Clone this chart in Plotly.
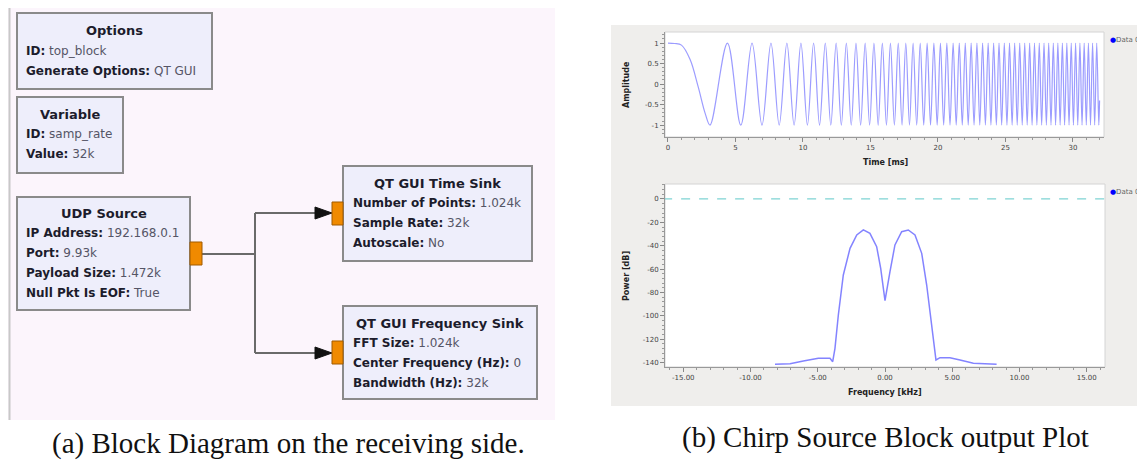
import plotly.graph_objects as go

# The page body has an 8px margin, so the figure is drawn 8px lower/right.
OFF = 8
W, H = 1145 - OFF, 466 - OFF

# ---------------- data ----------------
# chirp (time sink): readings of the first slope, then times of successive peaks/troughs (ms)
chirp_t = [0.0, 0.5, 1.0, 1.64, 2.24, 2.76, 3.114, 4.405, 5.394, 6.229, 6.964, 7.629, 8.240, 8.809, 9.343,
           9.849, 10.330, 10.789, 11.229, 11.653, 12.062, 12.458, 12.841, 13.213, 13.576,
           13.928, 14.272, 14.608, 14.937, 15.258, 15.572, 15.881, 16.183, 16.480, 16.772,
           17.059, 17.341, 17.618, 17.891, 18.160, 18.425, 18.687, 18.945, 19.199, 19.450,
           19.698, 19.942, 20.184, 20.423, 20.659, 20.893, 21.124, 21.352, 21.578, 21.801,
           22.023, 22.242, 22.459, 22.674, 22.887, 23.098, 23.307, 23.514, 23.719, 23.923,
           24.125, 24.325, 24.523, 24.720, 24.916, 25.110, 25.302, 25.493, 25.683, 25.871,
           26.058, 26.243, 26.427, 26.610, 26.792, 26.972, 27.151, 27.329, 27.506, 27.682,
           27.857, 28.030, 28.203, 28.374, 28.545, 28.714, 28.882, 29.050, 29.216, 29.382,
           29.547, 29.710, 29.873, 30.035, 30.196, 30.356, 30.516, 30.674, 30.832, 30.989,
           31.145, 31.300, 31.455, 31.609, 31.762, 31.914, 31.97]
chirp_amp = [1, 0.99, 0.95, 0.6, -0.07, -0.72, -1, 1, -1, 1, -1, 1, -1, 1, -1,
             1, -1, 1, -1, 1, -1, 1, -1, 1, -1,
             1, -1, 1, -1, 1, -1, 1, -1, 1, -1,
             1, -1, 1, -1, 1, -1, 1, -1, 1, -1,
             1, -1, 1, -1, 1, -1, 1, -1, 1, -1,
             1, -1, 1, -1, 1, -1, 1, -1, 1, -1,
             1, -1, 1, -1, 1, -1, 1, -1, 1, -1,
             1, -1, 1, -1, 1, -1, 1, -1, 1, -1,
             1, -1, 1, -1, 1, -1, 1, -1, 1, -1,
             1, -1, 1, -1, 1, -1, 1, -1, 1, -1,
             1, -1, 1, -1, 1, -1, -0.4]

# spectrum (frequency sink)
freq_khz = [-8.18, -7.06, -6.07, -4.96, -4.09, -3.89, -3.72, -3.47, -3.10, -2.60,
            -2.10, -1.61, -1.12, -0.62, -0.32, 0.0, 0.37, 0.74, 1.24, 1.73,
            2.23, 2.73, 3.10, 3.47, 3.79, 4.09, 4.83, 5.58, 6.57, 8.30]
power_db = [-141.4, -140.9, -138.6, -136.3, -136.3, -139.2, -127.7, -99.2, -65.0, -42.2,
            -30.8, -26.5, -29.4, -40.8, -59.3, -87.0, -62.2, -39.3, -28.0, -26.5,
            -30.8, -46.5, -73.6, -107.8, -137.7, -135.7, -135.7, -137.7, -140.5, -141.4]
ref_level_x = [-16.5, 16.5]
ref_level_db = [0, 0]

time_ticks = [0, 5, 10, 15, 20, 25, 30]
amp_ticks = [1, 0.5, 0, -0.5, -1]
amp_labels = ["1", "0.5", "0", "-0.5", "-1"]
freq_ticks = [-15, -10, -5, 0, 5, 10, 15]
freq_labels = ["-15.00", "-10.00", "-5.00", "0.00", "5.00", "10.00", "15.00"]
db_ticks = [0, -20, -40, -60, -80, -100, -120, -140]
db_labels = ["0", "-20", "-40", "-60", "-80", "-100", "-120", "-140"]

# block diagram content
blocks = [
    dict(title="Options", rect=(17, 13, 212, 89), ty=31,
         rows=[("ID:", "top_block"), ("Generate Options:", "QT GUI")], ry=[51, 71], tx=24),
    dict(title="Variable", rect=(17, 97, 123, 173), ty=114,
         rows=[("ID:", "samp_rate"), ("Value:", "32k")], ry=[134, 154], tx=24),
    dict(title="UDP Source", rect=(17, 197, 190, 310), ty=213,
         rows=[("IP Address:", "192.168.0.1"), ("Port:", "9.93k"), ("Payload Size:", "1.472k"),
               ("Null Pkt Is EOF:", "True")], ry=[233, 253, 273, 293], tx=24),
    dict(title="QT GUI Time Sink", rect=(343, 166, 532, 261), ty=183,
         rows=[("Number of Points:", "1.024k"), ("Sample Rate:", "32k"), ("Autoscale:", "No")],
         ry=[203, 223, 243], tx=351),
    dict(title="QT GUI Frequency Sink", rect=(343, 306, 537, 399), ty=323,
         rows=[("FFT Size:", "1.024k"), ("Center Frequency (Hz):", "0"), ("Bandwidth (Hz):", "32k")],
         ry=[343, 363, 383], tx=351),
]

captions = ["(a) Block Diagram on the receiving side.", "(b) Chirp Source Block output Plot"]


def X(px):
    return (px - OFF) / W


def Y(py):
    return 1 - (py - OFF) / H


fig = go.Figure()

fig.add_trace(go.Scatter(x=chirp_t, y=chirp_amp, mode="lines", xaxis="x", yaxis="y",
                         line=dict(color="rgba(90,90,255,0.6)", width=1.2, shape="spline", smoothing=1.0),
                         showlegend=False, hoverinfo="skip"))
fig.add_trace(go.Scatter(x=ref_level_x, y=ref_level_db, mode="lines", xaxis="x2", yaxis="y2",
                         line=dict(color="#7fd3d3", width=1.2, dash="dash"),
                         showlegend=False, hoverinfo="skip"))
fig.add_trace(go.Scatter(x=freq_khz, y=power_db, mode="lines", xaxis="x2", yaxis="y2",
                         line=dict(color="rgba(90,90,255,0.75)", width=1.5),
                         showlegend=False, hoverinfo="skip"))

shapes = []
# left diagram background
shapes.append(dict(type="rect", xref="paper", yref="paper", x0=X(8), x1=X(555), y0=Y(420), y1=Y(8),
                   fillcolor="#fcf5fc", line=dict(width=0), layer="below"))
shapes.append(dict(type="line", xref="paper", yref="paper", x0=X(9.5), x1=X(9.5), y0=Y(420), y1=Y(8),
                   line=dict(color="#c8c8c8", width=2)))
# right grey panel
shapes.append(dict(type="rect", xref="paper", yref="paper", x0=X(611), x1=X(1146), y0=Y(406), y1=Y(25),
                   fillcolor="#efeeec", line=dict(width=0), layer="below"))
# canvas frames
for (x0, y0, x1, y1) in [(665, 32, 1104, 137), (665, 184, 1105, 367)]:
    shapes.append(dict(type="rect", xref="paper", yref="paper", x0=X(x0), x1=X(x1), y0=Y(y1), y1=Y(y0),
                       fillcolor="white", line=dict(color="#d4d4d4", width=1), layer="below"))

# blocks
for b in blocks:
    x0, y0, x1, y1 = b["rect"]
    shapes.append(dict(type="rect", xref="paper", yref="paper", x0=X(x0), x1=X(x1), y0=Y(y1), y1=Y(y0),
                       fillcolor="#eeeefb", line=dict(color="#8a8a8a", width=2)))

# connections
line_style = dict(color="#6a6a6a", width=2)
for (a, b_, c, d) in [(202, 254, 255, 254), (255, 213, 255, 353), (255, 213, 318, 213), (255, 353, 318, 353)]:
    shapes.append(dict(type="line", xref="paper", yref="paper", x0=X(a), y0=Y(b_), x1=X(c), y1=Y(d),
                       line=line_style))
for yc in [213, 353]:
    path = f"M {X(315)} {Y(yc-6)} L {X(332)} {Y(yc)} L {X(315)} {Y(yc+6)} Z"
    shapes.append(dict(type="path", xref="paper", yref="paper", path=path,
                       fillcolor="#111111", line=dict(color="#111111", width=1)))
# ports
for (x0, y0, x1, y1) in [(190, 242, 202, 265), (332, 202, 343, 225), (332, 341, 343, 364)]:
    shapes.append(dict(type="rect", xref="paper", yref="paper", x0=X(x0), x1=X(x1), y0=Y(y1), y1=Y(y0),
                       fillcolor="#f08a00", line=dict(color="#a05a00", width=1)))

annotations = []
rowfont = dict(family="DejaVu Sans", size=12, color="#1c1c2c")
titlefont = dict(family="DejaVu Sans", size=13, color="#1c1c2c")
for b in blocks:
    x0, y0, x1, y1 = b["rect"]
    annotations.append(dict(xref="paper", yref="paper", x=X((x0 + x1) / 2), y=Y(b["ty"]),
                            text=f"<b>{b['title']}</b>", showarrow=False, font=titlefont,
                            xanchor="center", yanchor="middle"))
    for (k, v), yy in zip(b["rows"], b["ry"]):
        annotations.append(dict(xref="paper", yref="paper", x=X(b["tx"]), y=Y(yy),
                                text=f"<b>{k}</b> <span style='color:#555566'>{v}</span>",
                                showarrow=False, font=rowfont, xanchor="left", yanchor="middle"))

# axis titles & legends in the plots
tfont = dict(family="DejaVu Sans", size=8, color="#222222")
annotations += [
    dict(xref="paper", yref="paper", x=X(885), y=Y(163), text="<b>Time [ms]</b>", showarrow=False,
         font=tfont, xanchor="center", yanchor="middle"),
    dict(xref="paper", yref="paper", x=X(885), y=Y(392), text="<b>Frequency [kHz]</b>", showarrow=False,
         font=tfont, xanchor="center", yanchor="middle"),
    dict(xref="paper", yref="paper", x=X(626), y=Y(85), text="<b>Amplitude</b>", showarrow=False,
         font=tfont, xanchor="center", yanchor="middle", textangle=-90),
    dict(xref="paper", yref="paper", x=X(626), y=Y(276), text="<b>Power [dB]</b>", showarrow=False,
         font=tfont, xanchor="center", yanchor="middle", textangle=-90),
]
for yy in [40, 192]:
    annotations.append(dict(xref="paper", yref="paper", x=X(1108), y=Y(yy),
                            text="<span style='color:#0000ff'>●</span>Data 0", showarrow=False,
                            font=dict(family="DejaVu Sans", size=7, color="#666666"),
                            xanchor="left", yanchor="middle"))

# captions
cfont = dict(family="Liberation Serif", size=29, color="#111111")
annotations.append(dict(xref="paper", yref="paper", x=X(288), y=Y(443), text=captions[0], showarrow=False,
                        font=cfont, xanchor="center", yanchor="middle"))
annotations.append(dict(xref="paper", yref="paper", x=X(885), y=Y(437), text=captions[1], showarrow=False,
                        font=cfont, xanchor="center", yanchor="middle"))

tickfont = dict(family="DejaVu Sans", size=7, color="#444444")
common = dict(showgrid=False, zeroline=False, showline=True, linecolor="#999999", linewidth=1,
              ticks="outside", ticklen=4, tickcolor="#888888", tickfont=tickfont)

fig.update_layout(
    width=W, height=H, margin=dict(l=0, r=0, t=0, b=0),
    paper_bgcolor="white", plot_bgcolor="rgba(0,0,0,0)",
    shapes=shapes, annotations=annotations, showlegend=False,
    xaxis=dict(domain=[X(665), X(1104)], anchor="y", range=[-0.22, 32.3],
               tickvals=time_ticks, ticktext=[str(t) for t in time_ticks],
               minor=dict(dtick=1, ticks="outside", ticklen=2, tickcolor="#999999"), **common),
    yaxis=dict(domain=[Y(137), Y(32)], anchor="x", range=[-1.29, 1.27],
               tickvals=amp_ticks, ticktext=amp_labels,
               minor=dict(dtick=0.1, ticks="outside", ticklen=2, tickcolor="#999999"), **common),
    xaxis2=dict(domain=[X(665), X(1105)], anchor="y2", range=[-16.36, 16.36],
                tickvals=freq_ticks, ticktext=freq_labels,
                minor=dict(dtick=1, ticks="outside", ticklen=2, tickcolor="#999999"), **common),
    yaxis2=dict(domain=[Y(367), Y(184)], anchor="x2", range=[-143.7, 12.8],
                tickvals=db_ticks, ticktext=db_labels,
                minor=dict(dtick=4, ticks="outside", ticklen=2, tickcolor="#999999"), **common),
)

fig.write_html("out.html")
